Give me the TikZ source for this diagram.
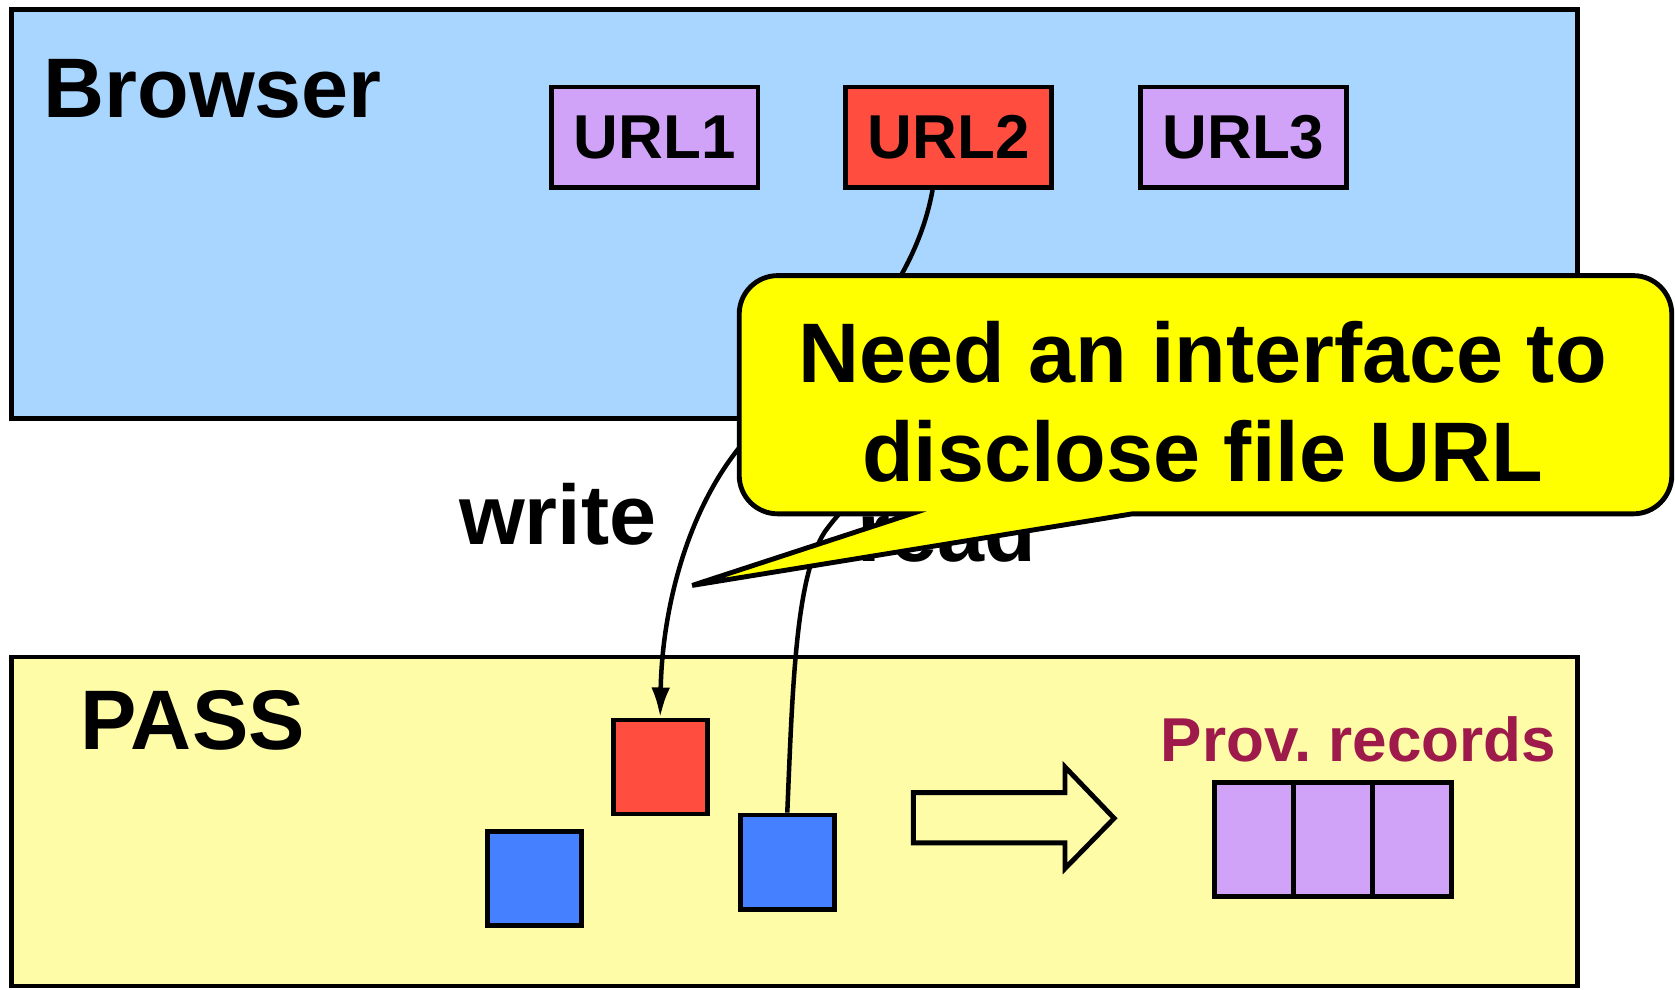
\documentclass[tikz,border=0pt]{standalone}
\usepackage{fontspec}
\setmainfont{Liberation Sans}
\usetikzlibrary{arrows.meta}
\usetikzlibrary{positioning}

\definecolor{browserblue}{RGB}{169,214,255}
\definecolor{passyellow}{RGB}{255,252,168}
\definecolor{urlpurple}{RGB}{208,162,248}
\definecolor{filered}{RGB}{255,77,64}
\definecolor{fileblue}{RGB}{68,128,255}
\definecolor{provred}{RGB}{158,26,74}
\definecolor{noteyellow}{RGB}{255,255,0}

\begin{document}
\begin{tikzpicture}
    [
      x = 0.01cm, y = -0.01cm,
      layer/.style = {draw, line width = 1.3pt},
      urlbox/.style = {draw, line width = 1.3pt, fill = urlpurple, inner sep = 0pt,
                       minimum width = 1.93cm, minimum height = 0.94cm,
                       font = \bfseries\fontsize{16.5}{20}\selectfont},
      filebox/.style = {draw, line width = 1.3pt, inner sep = 0pt, minimum size = 0.88cm},
      reccell/.style = {draw, line width = 1.3pt, fill = urlpurple, inner sep = 0pt, outer sep = 0pt,
                        minimum width = 0.74cm, minimum height = 1.065cm},
      bigtext/.style = {anchor = base west, inner sep = 0pt, font = \bfseries\fontsize{22.5}{27}\selectfont},
      flow/.style = {line width = 1.2pt},
    ]

    \useasboundingbox (0,0) rectangle (1568,926);

    \draw[layer, fill = browserblue] (11,9) rectangle (1477,392);
    \draw[layer, fill = passyellow] (11,615) rectangle (1477,923);

    \node[bigtext] (browser) at (40,110) {Browser};
    \node[bigtext] (pass) at (75,702) {PASS};

    \node[urlbox] (url1) at (613,128.5) {URL1};
    \node[urlbox, fill = filered] (url2) at (888,128.5) {URL2};
    \node[urlbox] (url3) at (1164,128.5) {URL3};

    \node[filebox, fill = filered] (red) at (618,718) {};
    \node[filebox, fill = fileblue] (blue1) at (500,822) {};
    \node[filebox, fill = fileblue] (blue2) at (737,807) {};

    \node[bigtext] (write) at (429,510) {write};
    \node[bigtext] (read) at (802,526) {read};

    % hollow arrow towards the records
    \draw[line width = 1.3pt] (855,742) -- (997,742) -- (997,718) -- (1043,766)
      -- (997,813) -- (997,789) -- (855,789) -- cycle;

    \node[anchor = base west, inner sep = 0pt, text = provred,
          font = \bfseries\fontsize{16.5}{20}\selectfont] (prov) at (1086,713) {Prov.\ records};
    \node[reccell] (rec1) at (1174,786) {};
    \node[reccell, right = 0pt of rec1] (rec2) {};
    \node[reccell, right = 0pt of rec2] (rec3) {};

    \coordinate (readend) at (815,455);
    \draw[flow, -{Latex[length=8pt, width=5pt]}] ([xshift=-0.15cm]url2.south)
      .. controls (858,260) and (800,330) .. (720,390)
      .. controls (650,450) and (620,560) .. (red.north);
    \draw[flow] (blue2.north) .. controls (742,640) and (745,540) .. (772,498)
      .. controls (785,480) and (800,465) .. (readend);

    % the note drawn over the links
    \draw[line width = 1.3pt, fill = noteyellow] (648,548) -- (853,481) -- (728,481)
      arc[start angle = 90, end angle = 180, radius = 36] -- (692,294)
      arc[start angle = 180, end angle = 270, radius = 36] -- (1529,258)
      arc[start angle = 270, end angle = 360, radius = 36] -- (1565,445)
      arc[start angle = 0, end angle = 90, radius = 36] -- (1060,481) -- cycle;
    \node[bigtext, anchor = base] (need1) at (1126,358) {Need an interface to};
    \node[bigtext, anchor = base] (need2) at (1126,451) {disclose file URL};
\end{tikzpicture}
\end{document}
